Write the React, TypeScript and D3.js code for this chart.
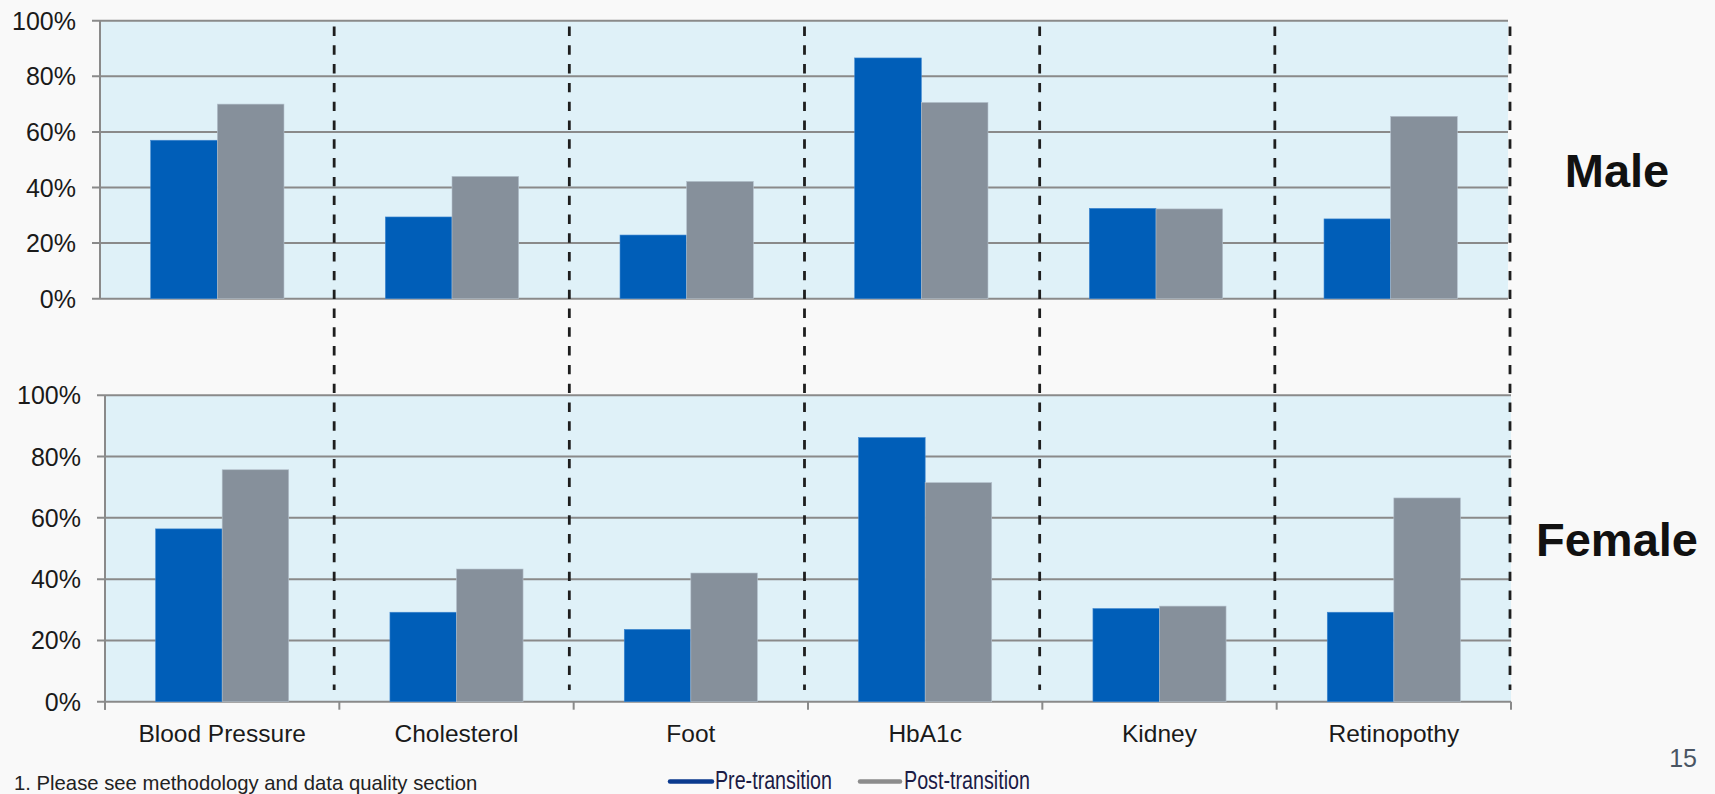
import React from "react";
import * as d3 from "d3";

const categories = ["Blood Pressure", "Cholesterol", "Foot", "HbA1c", "Kidney", "Retinopothy"];
const seriesKeys = ["Pre-transition", "Post-transition"];
const malePre = [0.57, 0.294, 0.229, 0.866, 0.325, 0.287];
const malePost = [0.70, 0.44, 0.422, 0.706, 0.323, 0.656];
const femalePre = [0.564, 0.292, 0.236, 0.862, 0.304, 0.292];
const femalePost = [0.757, 0.433, 0.42, 0.715, 0.312, 0.665];
const yTicks = [0, 0.2, 0.4, 0.6, 0.8, 1.0];
const yTickLabels = ["0%", "20%", "40%", "60%", "80%", "100%"];
const panelLabels = ["Male", "Female"];

const W = 1715;
const H = 794;
const BLUE = "#005eb8";
const GRAY = "#86909b";
const PLOT_BG = "#dff1f8";
const GRID = "#8a8a8a";
const FONT = "'Liberation Sans', Arial, sans-serif";

type PanelProps = {
  pre: number[];
  post: number[];
  left: number;
  right: number;
  top: number;
  bottom: number;
  showXAxis: boolean;
  label: string;
  labelY: number;
};

function Panel({ pre, post, left, right, top, bottom, showXAxis, label, labelY }: PanelProps) {
  const x = d3.scaleBand<string>().domain(categories).range([left, right]).paddingInner(0.432).paddingOuter(0.216);
  const x1 = d3.scaleBand<string>().domain(seriesKeys).range([0, x.bandwidth()]).padding(0);
  const y = d3.scaleLinear().domain([0, 1]).range([bottom, top]);
  const step = x.step();
  const boundaries = d3.range(categories.length + 1).map((i) => left + i * step);
  return (
    <g>
      <rect x={left} y={top} width={right - left} height={bottom - top} fill={PLOT_BG} />
      {yTicks.map((t, i) => (
        <g key={"g" + i}>
          <line x1={left - 8} x2={right} y1={y(t)} y2={y(t)} stroke={GRID} strokeWidth={2} />
          <text
            x={left - 24}
            y={y(t)}
            dy="0.36em"
            textAnchor="end"
            fontFamily={FONT}
            fontSize={25}
            fill="#1a1a1a"
          >
            {yTickLabels[i]}
          </text>
        </g>
      ))}
      <line x1={left} x2={left} y1={top} y2={bottom + (showXAxis ? 8 : 0)} stroke={GRID} strokeWidth={2} />
      {categories.map((c, i) => (
        <g key={c}>
          <rect
            x={(x(c) as number) + (x1(seriesKeys[0]) as number)}
            y={y(pre[i])}
            width={x1.bandwidth()}
            height={y(0) - y(pre[i])}
            fill={BLUE}
            stroke="#3f86cf"
            strokeWidth={0.6}
          />
          <rect
            x={(x(c) as number) + (x1(seriesKeys[1]) as number)}
            y={y(post[i])}
            width={x1.bandwidth()}
            height={y(0) - y(post[i])}
            fill={GRAY}
            stroke="#b4c0cc"
            strokeWidth={0.6}
          />
        </g>
      ))}
      {showXAxis &&
        boundaries.map((b, i) => (
          <line key={"t" + i} x1={b} x2={b} y1={bottom} y2={bottom + 8} stroke={GRID} strokeWidth={2} />
        ))}
      {showXAxis &&
        categories.map((c) => (
          <text
            key={"l" + c}
            x={(x(c) as number) + x.bandwidth() / 2}
            y={bottom + 40}
            textAnchor="middle"
            fontFamily={FONT}
            fontSize={24.5}
            fill="#1a1a1a"
          >
            {c}
          </text>
        ))}
      <text
        x={1617}
        y={labelY}
        textAnchor="middle"
        fontFamily={FONT}
        fontWeight="bold"
        fontSize={47}
        fill="#111"
      >
        {label}
      </text>
    </g>
  );
}

export default function App() {
  const divider = d3.scaleLinear().domain([0, categories.length]).range([99, 1510]);
  const dividers = d3.range(1, categories.length + 1).map((k) => divider(k));
  return (
    <svg
      width={W}
      height={H}
      viewBox={`0 0 ${W} ${H}`}
      style={{ position: "absolute", left: 0, top: 0, display: "block" }}
    >
      <rect x={0} y={0} width={W} height={H} fill="#f9f9f9" />
      <Panel
        pre={malePre}
        post={malePost}
        left={100}
        right={1508}
        top={20.7}
        bottom={298.7}
        showXAxis={false}
        label={panelLabels[0]}
        labelY={186.7}
      />
      <Panel
        pre={femalePre}
        post={femalePost}
        left={105}
        right={1511}
        top={395.3}
        bottom={701.7}
        showXAxis={true}
        label={panelLabels[1]}
        labelY={555.7}
      />
      {dividers.map((dx, i) => (
        <line
          key={"d" + i}
          x1={dx}
          x2={dx}
          y1={26.5}
          y2={690}
          stroke="#1e1e1e"
          strokeWidth={2.8}
          strokeDasharray="9.4 9.4"
        />
      ))}
      <text x={14} y={789.5} fontFamily={FONT} fontSize={20.3} fill="#222">
        1. Please see methodology and data quality section
      </text>
      <line x1={670} x2={712} y1={781.5} y2={781.5} stroke="#0b3a8e" strokeWidth={4.5} strokeLinecap="round" />
      <text
        x={715}
        y={789}
        fontFamily={FONT}
        fontSize={26}
        fill="#1b1b45"
        textLength={117}
        lengthAdjust="spacingAndGlyphs"
      >
        {seriesKeys[0]}
      </text>
      <line x1={860} x2={900} y1={781.5} y2={781.5} stroke="#8c8c8c" strokeWidth={4.5} strokeLinecap="round" />
      <text
        x={904}
        y={789}
        fontFamily={FONT}
        fontSize={26}
        fill="#1b1b45"
        textLength={126}
        lengthAdjust="spacingAndGlyphs"
      >
        {seriesKeys[1]}
      </text>
      <text x={1697} y={766.7} textAnchor="end" fontFamily={FONT} fontSize={25} fill="#4a5563">
        15
      </text>
    </svg>
  );
}
